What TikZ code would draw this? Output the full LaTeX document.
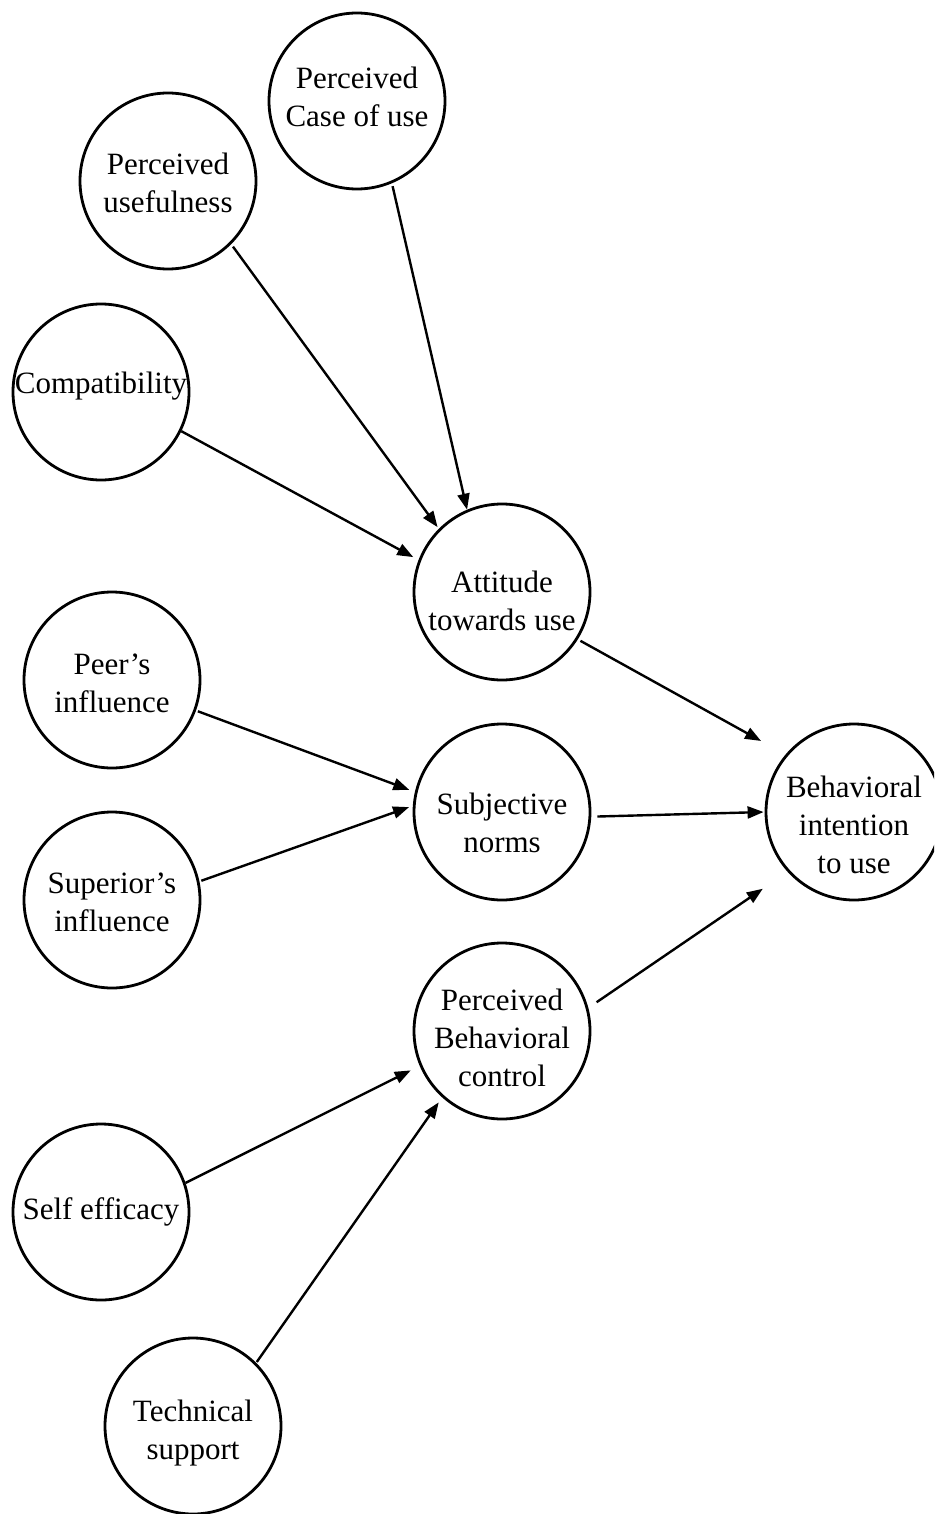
\documentclass[tikz,border=0pt]{standalone}
\usepackage{fontspec}
\setmainfont{Liberation Serif}
\usetikzlibrary{arrows.meta}
\begin{document}
\begin{tikzpicture}[x=1pt,y=-1pt,
  bubble/.style={circle,draw,line width=2.8pt,minimum size=176pt,inner sep=0pt},
  txt/.style={align=center,font=\fontsize{31pt}{38pt}\selectfont,inner sep=0pt},
  link/.style={line width=2.4pt,-{Triangle[length=16pt,width=12pt]}}]
\clip (0,0) rectangle (934,1514);

% constructs
\node[bubble,label={[txt,yshift=4pt]center:{Perceived\\Case of use}}] (pcou) at (357,101) {};
\node[bubble,label={[txt,yshift=-2pt]center:{Perceived\\usefulness}}] (pu) at (168,181) {};
\node[bubble,label={[txt,yshift=6pt]center:{Compatibility}}] (comp) at (101,392) {};
\node[bubble,label={[txt,yshift=-9pt]center:{Attitude\\towards use}}] (att) at (502,592) {};
\node[bubble,label={[txt,yshift=-3pt]center:{Peer’s\\influence}}] (peer) at (112,680) {};
\node[bubble,label={[txt,yshift=-11pt]center:{Subjective\\norms}}] (sn) at (502,812) {};
\node[bubble,label={[txt,yshift=-2pt]center:{Superior’s\\influence}}] (sup) at (112,900) {};
\node[bubble,label={[txt,yshift=-13pt]center:{Behavioral\\intention\\to use}}] (bi) at (854,812) {};
\node[bubble,label={[txt,yshift=-7pt]center:{Perceived\\Behavioral\\control}}] (pbc) at (502,1031) {};
\node[bubble,label={[txt,yshift=0pt]center:{Self efficacy}}] (se) at (101,1212) {};
\node[bubble,label={[txt,yshift=-7pt]center:{Technical\\support}}] (ts) at (193,1426) {};

% paths
\draw[link,shorten <=3pt] (pcou.-67) -- (att.113);
\draw[link,shorten <=3pt,shorten >=2pt] (pu.-45) -- (att.135);
\draw[link,shorten >=6pt] (comp.-26) -- (att.159);
\draw[link,shorten <=3pt,shorten >=28pt] (att.-32) -- (bi.140.5);
\draw[link,shorten <=2pt,shorten >=6pt] (peer.-20) -- (sn.167);
\draw[link,shorten <=2pt,shorten >=4pt] (sup.12.5) -- (sn.176);
\draw[link,shorten <=6pt,shorten >=1pt] (sn.-3.6) -- (bi.180);
\draw[link,shorten <=10pt,shorten >=30pt] (pbc.15) -- (bi.222);
\draw[link,shorten >=10pt] (se.19.6) -- (pbc.203);
\draw[link,shorten <=1pt,shorten >=6pt] (ts.45) -- (pbc.228);
\end{tikzpicture}
\end{document}
